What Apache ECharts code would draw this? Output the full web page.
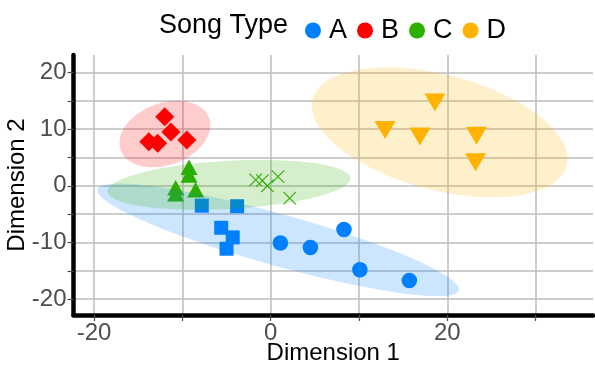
<!DOCTYPE html>
<html><head><meta charset="utf-8">
<script src="https://cdn.jsdelivr.net/npm/echarts@6/dist/echarts.min.js"></script>
<style>html,body{margin:0;padding:0;background:#fff}#chart{width:595px;height:367px}</style>
</head><body><div id="chart"></div>
<script>
// ---- data ----
const songTypes = ['A', 'B', 'C', 'D'];
// Song type A (two shapes)
const aCircleX = [1.1, 4.5, 8.3, 10.1, 15.7];
const aCircleY = [-10.1, -10.9, -7.7, -14.8, -16.7];
const aSquareX = [-7.8, -3.8, -5.6, -4.3, -5.0];
const aSquareY = [-3.5, -3.6, -7.4, -9.1, -11.1];
// Song type B
const bDiamondX = [-12.0, -11.3, -13.8, -12.8, -9.5];
const bDiamondY = [12.2, 9.5, 7.8, 7.5, 8.1];
// Song type C (two shapes)
const cTriangleX = [-9.25, -9.25, -10.76, -10.76, -8.5];
const cTriangleY = [3.3, 1.9, -0.35, -1.4, -0.7];
const cCrossX = [-1.7, -0.94, -0.37, 0.83, 2.15];
const cCrossY = [1.06, 0.94, 0.0, 1.64, -2.17];
// Song type D
const dTriangleX = [18.6, 12.95, 16.9, 23.3, 23.2];
const dTriangleY = [14.7, 9.85, 8.7, 8.85, 4.15];
// Ellipses (data units): centre and two conjugate semi-axis vectors, per song type
const ellipseCX = [0.85, -11.98, -4.72, 19.14];
const ellipseCY = [-9.53, 9.14, 0.18, 9.44];
const ellipseU = [[20.47, -8.52], [5.0, 2.84], [13.76, 1.18], [14.39, -5.88]];
const ellipseV = [[-0.88, 5.11], [-1.2, 5.13], [-0.14, 4.24], [1.65, 9.85]];
// Tick labels
const xTickValues = [-20, 0, 20];
const yTickValues = [-20, -10, 0, 10, 20];

// ---- styling ----
const FONT = "'Liberation Sans', Arial, Helvetica, sans-serif";
const colors = { A: '#0080ff', B: '#ff0000', C: '#2cb000', D: '#ffb300' };
const fills = { A: 'rgba(0,128,255,0.2)', B: 'rgba(255,0,0,0.2)', C: 'rgba(44,176,0,0.2)', D: 'rgba(255,179,0,0.2)' };

function zip(xs, ys) { return xs.map((x, i) => [x, ys[i]]); }

function scatter(name, xs, ys, symbol, size, extra) {
  return Object.assign({
    type: 'scatter', name: name, data: zip(xs, ys), symbol: symbol, symbolSize: size,
    itemStyle: { color: colors[name], opacity: 1 }, z: 2, silent: true
  }, extra || {});
}

function ellipseSeries(idx) {
  const name = songTypes[idx];
  return {
    type: 'custom', name: name, z: 3, silent: true,
    data: [[ellipseCX[idx], ellipseCY[idx]]],
    encode: { x: 0, y: 1 },
    renderItem: function (params, api) {
      const cx = api.value(0), cy = api.value(1);
      const u = ellipseU[idx], v = ellipseV[idx];
      const pts = [];
      const N = 120;
      for (let k = 0; k < N; k++) {
        const t = 2 * Math.PI * k / N;
        const c = Math.cos(t), s = Math.sin(t);
        pts.push(api.coord([cx + u[0] * c + v[0] * s, cy + u[1] * c + v[1] * s]));
      }
      return { type: 'polygon', shape: { points: pts }, style: { fill: fills[name], stroke: null } };
    }
  };
}

const crossPath = 'path://M0,0L10,10M10,0L0,10';
const isTick = (list) => (v) => (list.some(t => Math.abs(t - v) < 1e-6) ? String(Math.round(v)) : '');

const option = {
  animation: false,
  backgroundColor: '#ffffff',
  textStyle: { fontFamily: FONT },
  title: {
    text: 'Song Type', left: 159, top: 12, padding: 0,
    textStyle: { fontFamily: FONT, fontSize: 27, fontWeight: 'normal', color: '#000' }
  },
  legend: {
    left: 305, top: 17, padding: 0, itemWidth: 16, itemHeight: 16, itemGap: 10,
    textStyle: { fontFamily: FONT, fontSize: 27, color: '#000', padding: [0, 0, 0, 3] },
    data: songTypes.map(n => ({ name: n, icon: 'circle', itemStyle: { color: colors[n] } }))
  },
  grid: { left: 73.5, right: 2, top: 55, bottom: 52, containLabel: false, outerBoundsMode: 'none' },
  xAxis: {
    type: 'value', min: -22.33, max: 36.5, minInterval: 10, maxInterval: 10,
    name: 'Dimension 1', nameLocation: 'middle', nameGap: 26, nameMoveOverlap: false,
    nameTextStyle: { fontFamily: FONT, fontSize: 24, color: '#000' },
    axisLine: { show: true, onZero: false, lineStyle: { color: '#000', width: 4.5 } },
    axisTick: { show: true, length: 6, lineStyle: { color: '#4d4d4d', width: 1.2 } },
    axisLabel: { color: '#4d4d4d', fontSize: 24, fontFamily: FONT, margin: 6, showMinLabel: false, showMaxLabel: false,
      formatter: isTick(xTickValues) },
    splitLine: { show: true, showMinLine: false, showMaxLine: false, lineStyle: { color: '#bdbdbd', width: 1.5 } }
  },
  yAxis: {
    type: 'value', min: -22.8, max: 23.1, minInterval: 5, maxInterval: 5,
    name: 'Dimension 2', nameLocation: 'middle', nameGap: 44, nameMoveOverlap: false,
    nameTextStyle: { fontFamily: FONT, fontSize: 24, color: '#000' },
    axisLine: { show: true, onZero: false, lineStyle: { color: '#000', width: 4.5 } },
    axisTick: { show: true, length: 6, lineStyle: { color: '#4d4d4d', width: 1.2 } },
    axisLabel: { color: '#4d4d4d', fontSize: 24, fontFamily: FONT, margin: 7, showMinLabel: false, showMaxLabel: false,
      formatter: isTick(yTickValues) },
    splitLine: { show: true, showMinLine: false, showMaxLine: false, lineStyle: { color: '#bdbdbd', width: 1.5 } }
  },
  series: [
    scatter('A', aCircleX, aCircleY, 'circle', 15.5),
    scatter('A', aSquareX, aSquareY, 'rect', 14),
    scatter('B', bDiamondX, bDiamondY, 'diamond', 19),
    scatter('C', cTriangleX, cTriangleY, 'triangle', [17, 15.5]),
    scatter('C', cCrossX, cCrossY, crossPath, 12.5, {
      itemStyle: { color: 'rgba(0,0,0,0)', borderColor: colors.C, borderWidth: 1.1, opacity: 1 }
    }),
    scatter('D', dTriangleX, dTriangleY, 'triangle', [21, 18], { symbolRotate: 180 }),
    ellipseSeries(0), ellipseSeries(1), ellipseSeries(2), ellipseSeries(3)
  ]
};

const chart = echarts.init(document.getElementById('chart'), null, { renderer: 'canvas' });
chart.setOption(option);
</script>
</body></html>
